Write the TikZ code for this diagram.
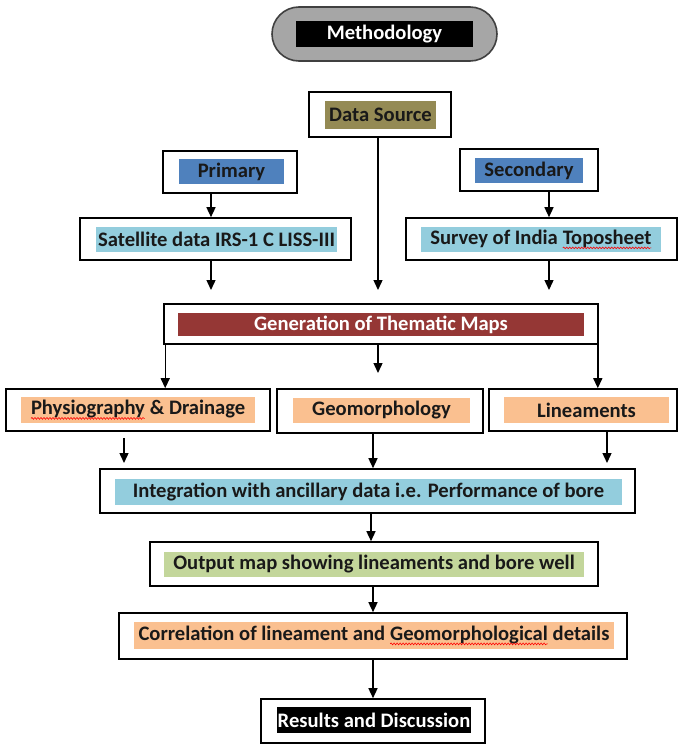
\documentclass[tikz,border=0pt]{standalone}
\usepackage{fontspec}
\setmainfont{Carlito}
\usetikzlibrary{arrows.meta,decorations.pathmorphing}

\definecolor{pillgray}{HTML}{A6A6A6}
\definecolor{pilledge}{HTML}{404040}
\definecolor{olivefill}{HTML}{948A54}
\definecolor{midblue}{HTML}{4F81BD}
\definecolor{aquafill}{HTML}{93CDDD}
\definecolor{maroonfill}{HTML}{953735}
\definecolor{peachfill}{HTML}{FAC090}
\definecolor{sagefill}{HTML}{C3D69B}

% red wavy underline used under flagged words
\newcommand\spellmark[1]{\tikz[baseline=(w.base),x=1pt,y=1pt]{%
  \node[inner sep=0pt, outer sep=0pt, minimum width=0pt, minimum height=0pt,
        fill=none, draw=none, text=black!90] (w) {#1};
  \draw[red, line width=0.6pt, decorate,
        decoration={snake, amplitude=0.9pt, segment length=3pt}]
        ([yshift=-3.5pt]w.base west) -- ([yshift=-3.5pt]w.base east);}}

\begin{document}
\begin{tikzpicture}[x=1pt,y=-1pt,
  frame/.style={draw=black, line width=1.6pt, fill=white, inner sep=0pt},
  band/.style={inner sep=0pt, text=black!90, font=\bfseries\fontsize{20.6}{24}\selectfont},
  arr/.style={line width=1.4pt, -{Triangle[length=10pt,width=9pt]}}]
\path[use as bounding box] (0,0) rectangle (679,744);

% title pill
\node[draw=pilledge, fill=pillgray, line width=1.6pt, rounded corners=27pt,
      minimum width=225pt, minimum height=54pt] (pill) at (384.5,34) {};
\node[band, fill=black, text=white, minimum width=177pt, minimum height=26pt] (pilltext) at (384.5,34) {Methodology};

% data source
\node[frame, minimum width=142pt, minimum height=45pt] (ds) at (380,114.5) {};
\node[band, fill=olivefill, minimum width=111pt, minimum height=28pt] (dst) at (380.5,115) {Data Source};

% primary / secondary
\node[frame, minimum width=134pt, minimum height=42pt] (prim) at (230,172) {};
\node[band, fill=midblue, minimum width=105pt, minimum height=25pt] (primt) at (231.5,171.5) {Primary};
\node[frame, minimum width=138pt, minimum height=42pt] (sec) at (529,170) {};
\node[band, fill=midblue, minimum width=108pt, minimum height=25pt] (sect) at (529,170.5) {Secondary};

% satellite / survey
\node[frame, minimum width=271pt, minimum height=42pt] (sat) at (215.5,239) {};
\node[band, fill=aquafill, minimum width=241pt, minimum height=25pt] (satt) at (216.5,239.5) {Satellite data IRS-1 C LISS-III};
\node[frame, minimum width=271pt, minimum height=42pt] (sur) at (541.5,239) {};
\node[band, fill=aquafill, minimum width=240pt, minimum height=25pt] (surt) at (541,239.5) {Survey of India \spellmark{Toposheet}};

% thematic maps
\node[frame, minimum width=434pt, minimum height=40pt] (gen) at (381,324) {};
\node[band, fill=maroonfill, text=white, minimum width=406pt, minimum height=23pt] (gent) at (381,324.5) {Generation of Thematic Maps};

\node[frame, minimum width=264pt, minimum height=42pt] (phy) at (138,410) {};
\node[band, fill=peachfill, minimum width=234pt, minimum height=26pt] (phyt) at (138,410) {\spellmark{Physiography} \& Drainage};
\node[frame, minimum width=206pt, minimum height=44pt] (geo) at (380,411) {};
\node[band, fill=peachfill, minimum width=177pt, minimum height=25pt] (geot) at (381.5,410.5) {Geomorphology};
\node[frame, minimum width=188pt, minimum height=42pt] (lin) at (583,410) {};
\node[band, fill=peachfill, minimum width=165pt, minimum height=26pt] (lint) at (586.5,410) {Lineaments};

% integration chain
\node[frame, minimum width=535pt, minimum height=44pt] (int) at (367.5,491) {};
\node[band, fill=aquafill, minimum width=507pt, minimum height=26pt] (intt) at (368.5,492) {Integration with ancillary data i.e. Performance of bore};
\node[frame, minimum width=448pt, minimum height=44pt] (out) at (374,564) {};
\node[band, fill=sagefill, minimum width=420pt, minimum height=25pt] (outt) at (374,564.5) {Output map showing lineaments and bore well};
\node[frame, minimum width=508pt, minimum height=46pt] (cor) at (373,636) {};
\node[band, fill=peachfill, minimum width=480pt, minimum height=27pt] (cort) at (374,635.5) {Correlation of lineament and \spellmark{Geomorphological} details};
\node[frame, minimum width=224pt, minimum height=44pt] (res) at (373,721) {};
\node[band, fill=black, text=white, minimum width=194pt, minimum height=26pt] (rest) at (374,720) {Results and Discussion};

% connector columns and free ends
\coordinate (satout) at (211,290);
\coordinate (dsout) at (378,290);
\coordinate (surout) at (549,290);
\coordinate (geoin) at (378,373);
\coordinate (phyout) at (124,463);
\coordinate (linout) at (607,463);
\coordinate (colgeo) at (373,0);
\coordinate (colint) at (371,0);

% connectors
\draw[arr] (prim.south -| satout) -- (sat.north -| satout);
\draw[arr] (sec.south -| surout) -- (sur.north -| surout);
\draw[arr] (sat.south -| satout) -- (satout);
\draw[arr] (ds.south -| dsout) -- (dsout);
\draw[arr] (sur.south -| surout) -- (surout);

\draw[arr] ([xshift=2pt]gen.south west) -- ([xshift=2pt]gen.south west |- phy.north);
\draw[arr] (gen.south -| geoin) -- (geoin);
\draw[arr] ([xshift=-1pt]gen.south east) -- ([xshift=-1pt]gen.south east |- lin.north);

\draw[arr] ([yshift=-6pt]phy.south -| phyout) -- (phyout);
\draw[arr] (geo.south -| colgeo) -- (int.north -| colgeo);
\draw[arr] (lin.south -| linout) -- (linout);

\draw[arr] (int.south -| colint) -- (out.north -| colint);
\draw[arr] (out.south -| colgeo) -- (cor.north -| colgeo);
\draw[arr] (cor.south -| colgeo) -- (res.north -| colgeo);
\end{tikzpicture}
\end{document}
